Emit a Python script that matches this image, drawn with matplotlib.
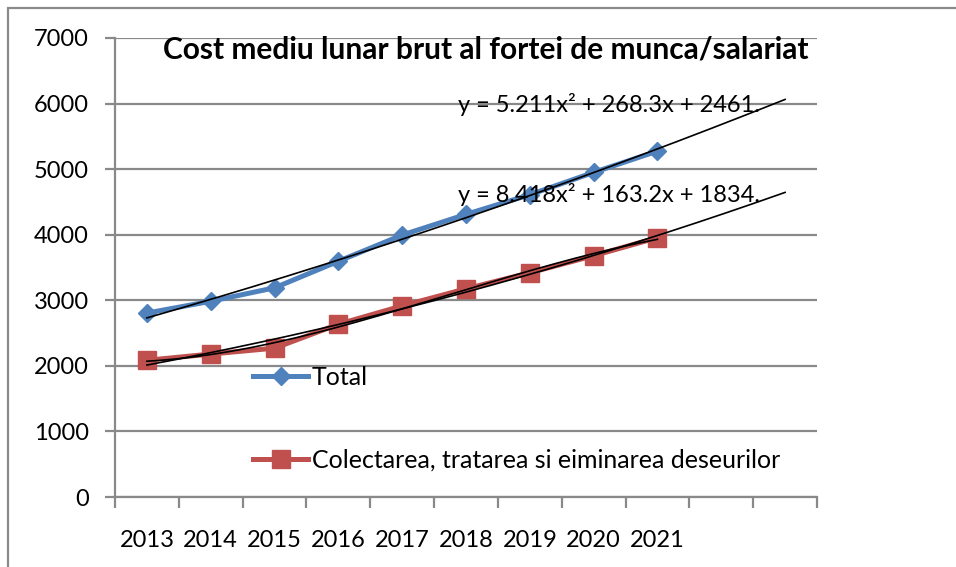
import numpy as np
import matplotlib
matplotlib.use("Agg")
import matplotlib.pyplot as plt
from matplotlib.lines import Line2D
from matplotlib.patches import Rectangle

years = ["2013", "2014", "2015", "2016", "2017", "2018", "2019", "2020", "2021"]
total = [2805, 2985, 3190, 3595, 3995, 4310, 4610, 4950, 5275]
colectare = [2085, 2180, 2270, 2635, 2915, 3175, 3420, 3680, 3955]
eq_total = "y = 5.211x² + 268.3x + 2461."
eq_colect = "y = 8.418x² + 163.2x + 1834."
title = "Cost mediu lunar brut al fortei de munca/salariat"
yticks = [0, 1000, 2000, 3000, 4000, 5000, 6000, 7000]

plt.rcParams['font.family'] = ['Lato', 'DejaVu Sans']

W, H = 956, 567
fig = plt.figure(figsize=(W / 100, H / 100), dpi=100)
ax = fig.add_axes([115 / W, 1 - 497 / H, (817 - 115) / W, (497 - 38) / H])

grid_c = "#898989"
blue = "#4F81BD"
red = "#C0504D"
fs = 17

x = np.arange(1, len(years) + 1)
ax.plot(x, total, color=blue, lw=3.6, marker="D", ms=9, zorder=3)
ax.plot(x, colectare, color=red, lw=3.6, marker="s", ms=13.5, zorder=3)

# trendlines (order-2 polynomial, forecast forward 2 periods)
xf = np.linspace(1, 11, 200)
p1 = np.polyfit(x, total, 2)
p2 = np.polyfit(x, colectare, 2)
ax.plot(xf, np.polyval(p1, xf), color="black", lw=1.2, zorder=4)
ax.plot(xf, np.polyval(p2, xf), color="black", lw=1.2, zorder=4)
xs = np.linspace(1, 9, 200)
p3 = np.polyfit(x, colectare, 3)
ax.plot(xs, np.polyval(p3, xs), color="black", lw=1.2, zorder=4)

ax.set_xlim(0.5, 11.5)
ax.set_ylim(0, 7000)
ax.set_yticks(yticks)
ax.set_yticklabels([str(v) for v in yticks], fontsize=fs)
ax.yaxis.grid(True, color=grid_c, lw=1.6)
ax.set_axisbelow(True)
ax.tick_params(axis="y", length=7, width=1.6, color=grid_c, pad=12)

ax.set_xticks(np.arange(0.5, 12, 1))
ax.set_xticklabels([])
ax.set_xticks(x, minor=True)
ax.set_xticklabels(years, minor=True, fontsize=fs)
ax.tick_params(axis="x", which="major", length=8, width=1.6, color=grid_c)
ax.tick_params(axis="x", which="minor", length=0, pad=24)

for s in ["top", "right"]:
    ax.spines[s].set_visible(False)
for s in ["left", "bottom"]:
    ax.spines[s].set_color(grid_c)
    ax.spines[s].set_linewidth(1.6)

fig.text(486 / W, 1 - 50 / H, title, fontsize=21.5, fontweight="bold",
         ha="center", va="center")
fig.text(458 / W, 1 - 104 / H, eq_total, fontsize=fs, ha="left", va="center")
fig.text(458 / W, 1 - 194 / H, eq_colect, fontsize=fs, ha="left", va="center")

handles = [Line2D([], [], color=blue, lw=3.6, marker="D", ms=9),
           Line2D([], [], color=red, lw=3.6, marker="s", ms=13.5)]
leg = ax.legend(handles, ["Total", "Colectarea, tratarea si eiminarea deseurilor"],
                loc="upper left", bbox_to_anchor=(253 / W, 1 - 366 / H),
                bbox_transform=fig.transFigure, frameon=False, fontsize=18,
                borderpad=0, borderaxespad=0, handlelength=2.2,
                handletextpad=0.15, labelspacing=2.38)

fig.add_artist(Rectangle((8 / W, -0.1), 1.2, 1 - 8 / H + 0.1,
                         transform=fig.transFigure, fill=False,
                         edgecolor="#8a8a8a", lw=1.6))

fig.savefig("out.png", dpi=100)
